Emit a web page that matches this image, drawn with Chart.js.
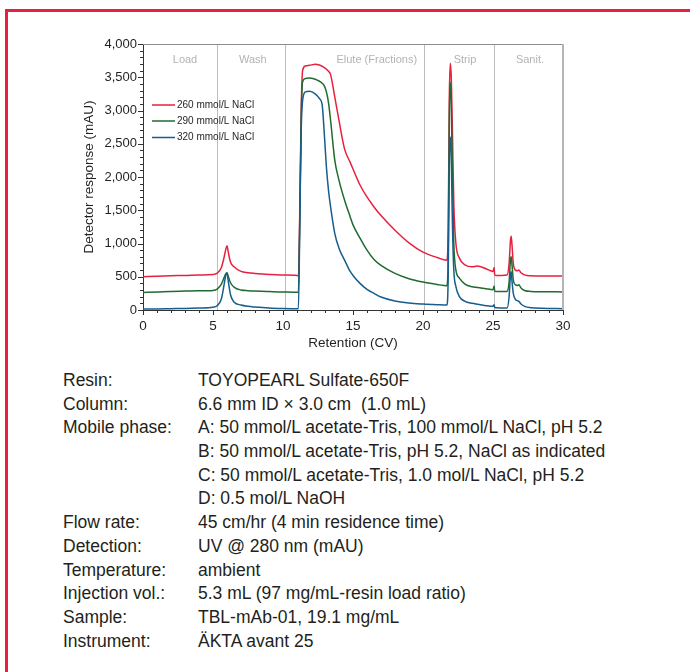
<!DOCTYPE html>
<html><head><meta charset="utf-8">
<script src="https://cdn.jsdelivr.net/npm/chart.js@4.4.0/dist/chart.umd.min.js"></script>
<style>
html,body{margin:0;padding:0;background:#fff;}
body{width:690px;height:672px;position:relative;overflow:hidden;font-family:'Liberation Sans',Arial,sans-serif;color:#231f20;}
#frame{position:absolute;left:5px;top:9px;width:800px;height:800px;border-left:3px solid #e8203f;border-top:3px solid #e8203f;}
#wrap{position:absolute;left:0;top:0;width:690px;height:360px;}
#info{position:absolute;left:63px;top:369px;font-size:17.5px;line-height:23.7px;}
.row{display:flex;height:23.7px;white-space:nowrap;}
.k{width:135px;flex:none;}
</style></head>
<body>
<div id="frame"></div>
<div id="wrap"><canvas id="c" width="690" height="360"></canvas></div>
<div id="info"></div>
<script>
const FONT = "'Liberation Sans',Arial,sans-serif";

const retention = [0,1,2,3,4,5,5.3,5.6,5.8,5.9,6.0,6.1,6.25,6.5,7,7.5,8,9,10,11.0,
  11.1,11.2,11.3,11.4,11.6,11.9,12.3,12.6,12.8,12.95,13.1,13.25,13.4,13.7,14.0,14.4,14.8,15.0,15.5,16.0,16.5,17,18,19,20,21,21.7,
  21.8,21.88,21.95,22.02,22.1,22.2,22.35,22.6,23.0,23.5,23.9,24.5,25.0,25.08,25.12,25.2,25.6,26.0,26.15,26.25,26.3,26.35,26.45,26.6,26.75,26.85,27.0,27.3,27.7,28.5,30];

const nacl260 = [500,508,515,520,527,535,555,640,800,900,965,860,720,650,580,560,550,535,525,520,
  510,1500,3000,3600,3670,3680,3695,3685,3665,3645,3620,3590,3540,3200,2850,2420,2220,2120,1880,1700,1550,1420,1200,1010,870,790,750,
  1200,3200,3710,3500,2700,1600,1000,780,680,650,660,620,580,640,530,520,520,525,700,1050,1110,1000,700,600,590,600,560,525,515,510,510];

const nacl290 = [265,272,280,284,288,295,315,390,490,540,560,500,410,345,300,290,285,278,272,268,
  262,1400,2900,3430,3480,3490,3470,3440,3410,3370,3280,3120,2850,2250,1950,1650,1400,1280,1080,900,760,670,550,470,420,385,365,
  800,2900,3420,3100,2000,1000,600,480,390,350,340,320,305,360,285,280,278,280,420,760,800,700,450,380,370,380,330,290,280,275,272];

const nacl320 = [15,16,20,24,30,42,65,170,390,510,555,420,230,120,75,55,45,30,22,18,
  18,1300,2700,3150,3280,3290,3250,3180,3080,2650,2150,1800,1550,1150,930,750,580,520,400,310,250,195,135,105,90,80,75,
  500,2200,2600,2300,1300,600,350,200,130,100,85,65,55,80,40,35,30,30,200,540,575,450,250,160,140,130,90,50,35,25,20];

const seriesLabels = ['260 mmol/L NaCl','290 mmol/L NaCl','320 mmol/L NaCl'];
const seriesColors = ['#e8203f','#1f6b30','#185d8c'];

const phaseBounds = [5.25,10.15,20.1,25.1];
const phaseNames = ['Load','Wash','Elute (Fractions)','Strip','Sanit.'];
const phaseLabelX = [3.0,7.84,16.7,23.0,27.64];

const yTicks = {min:0,max:4000,step:500,minor:100};
const xTicks = {min:0,max:30,step:5,minor:1};

const infoLabels = ['Resin:','Column:','Mobile phase:','','','','Flow rate:','Detection:','Temperature:','Injection vol.:','Sample:','Instrument:'];
const infoValues = ['TOYOPEARL Sulfate-650F','6.6 mm ID \u00d7 3.0 cm  (1.0 mL)',
  'A: 50 mmol/L acetate-Tris, 100 mmol/L NaCl, pH 5.2',
  'B: 50 mmol/L acetate-Tris, pH 5.2, NaCl as indicated',
  'C: 50 mmol/L acetate-Tris, 1.0 mol/L NaCl, pH 5.2',
  'D: 0.5 mol/L NaOH',
  '45 cm/hr (4 min residence time)','UV @ 280 nm (mAU)','ambient',
  '5.3 mL (97 mg/mL-resin load ratio)','TBL-mAb-01, 19.1 mg/mL','\u00c4KTA avant 25'];

const info = document.getElementById('info');
infoLabels.forEach((l,i)=>{
  const r=document.createElement('div');r.className='row';
  const k=document.createElement('div');k.className='k';k.textContent=l;
  const v=document.createElement('div');v.textContent=infoValues[i];
  v.style.whiteSpace='pre';
  r.appendChild(k);r.appendChild(v);info.appendChild(r);
});

const seriesData = [nacl260,nacl290,nacl320];
const datasets = seriesData.map((arr,i)=>({
  label: seriesLabels[i],
  data: retention.map((x,j)=>({x:x,y:arr[j]})),
  borderColor: seriesColors[i],
  borderWidth: 1.5,
  pointRadius: 0,
  cubicInterpolationMode: 'monotone',
  fill: false,
  order: 3-i
}));

const decor = {
  id:'decor',
  beforeDatasetsDraw(chart){
    const {ctx, chartArea:a, scales:{x,y}} = chart;
    ctx.save();
    ctx.strokeStyle='#bdbdbd'; ctx.lineWidth=1;
    phaseBounds.forEach(b=>{
      const px=Math.round(x.getPixelForValue(b))+0.5;
      ctx.beginPath();ctx.moveTo(px,a.top);ctx.lineTo(px,a.bottom);ctx.stroke();
    });
    ctx.font='11px '+FONT; ctx.fillStyle='#b3b3b3'; ctx.textAlign='center'; ctx.textBaseline='middle';
    phaseNames.forEach((n,i)=>ctx.fillText(n,x.getPixelForValue(phaseLabelX[i]),a.top+16));
    ctx.restore();
  },
  afterDraw(chart){
    const {ctx, chartArea:a, scales:{x,y}} = chart;
    ctx.save();
    ctx.strokeStyle='#8c8c8c'; ctx.lineWidth=1;
    ctx.beginPath();ctx.moveTo(a.left,a.top+0.5);ctx.lineTo(a.right,a.top+0.5);ctx.stroke();
    ctx.strokeStyle='#b5b5b5'; ctx.lineWidth=2;
    ctx.beginPath();ctx.moveTo(a.right,a.top);ctx.lineTo(a.right,a.bottom);ctx.stroke();
    ctx.strokeStyle='#333'; ctx.lineWidth=1;
    for(let v=yTicks.min; v<=yTicks.max; v+=yTicks.minor){
      const py=Math.round(y.getPixelForValue(v))+0.5;
      const len = v%yTicks.step===0?5:3;
      ctx.beginPath();ctx.moveTo(a.left-len,py);ctx.lineTo(a.left,py);ctx.stroke();
    }
    for(let v=xTicks.min; v<=xTicks.max; v+=xTicks.minor){
      const px=Math.round(x.getPixelForValue(v))+0.5;
      const len = v%xTicks.step===0?5:3;
      ctx.beginPath();ctx.moveTo(px,a.bottom);ctx.lineTo(px,a.bottom+len);ctx.stroke();
    }
    const rows=[105,121,137.5];
    ctx.font='10px '+FONT; ctx.textAlign='left'; ctx.textBaseline='middle'; ctx.fillStyle='#231f20';
    chart.data.datasets.forEach((d,i)=>{
      ctx.strokeStyle=d.borderColor; ctx.lineWidth=1.5;
      ctx.beginPath();ctx.moveTo(152,rows[i]);ctx.lineTo(175,rows[i]);ctx.stroke();
      ctx.fillText(d.label,177,rows[i]);
    });
    ctx.restore();
  }
};

new Chart(document.getElementById('c'),{
  type:'line',
  data:{datasets},
  plugins:[decor],
  options:{
    responsive:false, animation:false,
    layout:{padding:{left:80,top:44,right:127,bottom:0}},
    plugins:{legend:{display:false},tooltip:{enabled:false}},
    scales:{
      x:{type:'linear',min:xTicks.min,max:xTicks.max,
        afterFit(s){s.height=50;},
        ticks:{stepSize:xTicks.step,padding:8,maxRotation:0,color:'#231f20',font:{family:FONT,size:13.5}},
        grid:{drawOnChartArea:false,drawTicks:false},
        border:{color:'#333',width:1},
        title:{display:true,text:'Retention (CV)',color:'#231f20',font:{family:FONT,size:13.5},padding:{top:0,bottom:9}}
      },
      y:{min:yTicks.min,max:yTicks.max,
        afterFit(s){s.width=63;},
        ticks:{stepSize:yTicks.step,padding:6,color:'#231f20',font:{family:FONT,size:13},
          callback:v=>v.toLocaleString('en-US')},
        grid:{drawOnChartArea:false,drawTicks:false},
        border:{color:'#333',width:1},
        title:{display:true,text:'Detector response (mAU)',color:'#231f20',font:{family:FONT,size:13.5},padding:{top:1.5,bottom:0}}
      }
    }
  }
});
</script>
</body></html>
